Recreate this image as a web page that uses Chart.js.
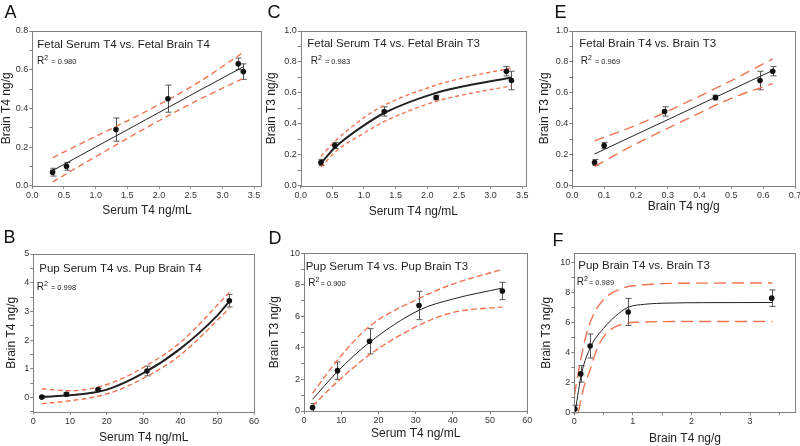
<!DOCTYPE html>
<html>
<head>
<meta charset="utf-8">
<script src="https://cdn.jsdelivr.net/npm/chart.js@4.4.1/dist/chart.umd.min.js"></script>
<style>
body { margin: 0; background: #fff; width: 800px; height: 446px; overflow: hidden; position: relative; }
canvas { position: absolute; left: 0; top: 0; }
</style>
</head>
<body>
<canvas id="cA" width="800" height="446"></canvas>
<canvas id="cB" width="800" height="446"></canvas>
<canvas id="cC" width="800" height="446"></canvas>
<canvas id="cD" width="800" height="446"></canvas>
<canvas id="cE" width="800" height="446"></canvas>
<canvas id="cF" width="800" height="446"></canvas>
<script>
// fetal measurements (mean, +/- error)
var fetalSerumT4 = [0.32, 0.54, 1.32, 2.14, 3.25, 3.33]
var fetalBrainT4 = [0.07, 0.10, 0.29, 0.45, 0.63, 0.59]
var fetalBrainT4Err = [0.02, 0.02, 0.06, 0.07, 0.03, 0.04]
var fetalBrainT3 = [0.15, 0.26, 0.48, 0.57, 0.74, 0.68]
var fetalBrainT3Err = [0.02, 0.02, 0.03, 0.015, 0.03, 0.06]

// pup measurements
var pupSerumT4 = [2.3, 9.0, 17.6, 30.9, 53.3]
var pupBrainT4 = [0.01, 0.11, 0.27, 0.92, 3.37]
var pupBrainT4Err = [0.03, 0.05, 0.05, 0.17, 0.22]
var pupBrainT3 = [0.22, 2.56, 4.42, 6.69, 7.61]
var pupBrainT3Err = [0.25, 0.55, 0.8, 0.9, 0.55]

// fitted curves and 95% bands
var fitAX = [0.32, 1.0, 1.8, 2.6, 3.33]
var fitAY = [0.078, 0.20, 0.343, 0.486, 0.615]
var bandAUp = [0.145, 0.255, 0.385, 0.53, 0.69]
var bandALo = [0.02, 0.15, 0.30, 0.44, 0.555]

var fitCX = [0.32, 0.55, 1.0, 1.32, 2.14, 2.6, 3.33]
var fitCY = [0.145, 0.25, 0.39, 0.47, 0.60, 0.645, 0.70]
var bandCUp = [0.19, 0.29, 0.44, 0.52, 0.65, 0.70, 0.76]
var bandCLo = [0.12, 0.22, 0.34, 0.415, 0.545, 0.59, 0.645]

var fitEX = [0.07, 0.63]
var fitEY = [0.205, 0.745]
var bandEX = [0.07, 0.2, 0.35, 0.5, 0.63]
var bandEUp = [0.29, 0.39, 0.53, 0.68, 0.82]
var bandELo = [0.125, 0.27, 0.42, 0.565, 0.66]

var fitBX = [2.3, 10, 20, 30, 40, 50, 53.3]
var fitBY = [0.02, 0.07, 0.27, 0.85, 1.7, 2.85, 3.35]
var bandBX = [2.3, 10, 20, 30, 40, 53.3]
var bandBUp = [0.3, 0.23, 0.45, 1.05, 1.92, 3.66]
var bandBLo = [-0.22, -0.12, 0.12, 0.67, 1.48, 3.1]

var fitDX = [2.3, 9, 17.5, 31, 40, 53.4]
var fitDY = [0.74, 2.5, 4.33, 6.4, 7.1, 7.8]
var bandDUp = [1.12, 3.23, 5.35, 7.15, 8.05, 8.99]
var bandDLo = [0.32, 1.86, 3.55, 5.45, 6.25, 6.6]

var fitFX = [0.02, 0.125, 0.284, 0.5, 0.7, 0.92, 1.2, 1.6, 2.2, 3.38]
var fitFY = [0.16, 2.6, 4.4, 5.6, 6.4, 7.0, 7.2, 7.28, 7.31, 7.32]
var bandFUpX = [0.0, 0.108, 0.21, 0.324, 0.494, 0.78, 1.18, 1.8, 3.38]
var bandFUp = [1.1, 3.49, 5.27, 6.49, 7.49, 8.22, 8.5, 8.6, 8.62]
var bandFLoX = [0.07, 0.15, 0.27, 0.38, 0.55, 0.78, 1.06, 1.8, 3.38]
var bandFLo = [0, 1.49, 2.82, 4.16, 5.27, 5.82, 6.0, 6.05, 6.05]

var ORANGE = '#f07450'
Chart.defaults.font.family = 'Arial, "Liberation Sans", sans-serif'
Chart.defaults.color = '#333'

function pts(xs, ys) {
    return xs.map(function (x, i) { return {x: x, y: ys[i]} })
}

var panelPlugin = {
    id: 'panel',
    beforeDatasetsDraw: function (chart, args, o) {
        var ctx = chart.ctx, xs = chart.scales.x, ys = chart.scales.y
        ctx.save()
        ctx.strokeStyle = '#555'
        ctx.lineWidth = 1
        chart.data.datasets[0].data.forEach(function (p, i) {
            var px = Math.round(xs.getPixelForValue(p.x)) + 0.5
            var t = ys.getPixelForValue(p.y + o.err[i])
            var b = ys.getPixelForValue(p.y - o.err[i])
            ctx.beginPath()
            ctx.moveTo(px, t); ctx.lineTo(px, b)
            ctx.moveTo(px - 3, t); ctx.lineTo(px + 3, t)
            ctx.moveTo(px - 3, b); ctx.lineTo(px + 3, b)
            ctx.stroke()
        })
        ctx.restore()
    },
    afterDraw: function (chart, args, o) {
        var ctx = chart.ctx, a = chart.chartArea
        ctx.save()
        ctx.strokeStyle = '#808080'
        ctx.lineWidth = 1
        ctx.strokeRect(Math.round(a.left) + 0.5, Math.round(a.top) + 0.5,
            Math.round(a.right - a.left), Math.round(a.bottom - a.top))
        ctx.fillStyle = '#111'
        ctx.textBaseline = 'alphabetic'
        ctx.font = '18px Arial, "Liberation Sans"'
        ctx.fillText(o.letter, a.left + o.letter_at[0], a.top + o.letter_at[1])
        ctx.fillStyle = '#222'
        ctx.font = '11.5px Arial, "Liberation Sans"'
        ctx.fillText(o.title, a.left + o.title_at[0], a.top + o.title_at[1])
        var rx = a.left + o.r2_at[0], ry = a.top + o.r2_at[1]
        ctx.font = '10px Arial, "Liberation Sans"'
        ctx.fillText('R', rx, ry)
        rx += ctx.measureText('R').width
        ctx.font = '7px Arial, "Liberation Sans"'
        ctx.fillText('2', rx, ry - 4)
        rx += ctx.measureText('2').width
        ctx.font = '7.5px Arial, "Liberation Sans"'
        ctx.fillText(o.r2, rx + 1, ry)
        ctx.restore()
    }
}

function axis(c, horizontal) {
    return {
        type: 'linear',
        min: c.min,
        max: c.max,
        border: {display: false},
        grid: {display: true, drawOnChartArea: false, drawTicks: true, tickLength: 3, color: '#808080'},
        ticks: {
            stepSize: c.step,
            includeBounds: false,
            autoSkip: false,
            maxRotation: 0,
            padding: 1,
            font: {size: 9},
            color: '#333',
            callback: function (v) {
                var r = v / c.major
                return Math.abs(r - Math.round(r)) < 1e-6 ? v.toFixed(c.dec) : ''
            }
        },
        title: {display: true, text: c.title, padding: 0, font: {size: 12}, color: '#222'},
        afterFit: function (s) {
            if (horizontal) { s.height = c.size; s.paddingLeft = 0; s.paddingRight = 0 }
            else { s.width = c.size; s.paddingTop = 0; s.paddingBottom = 0 }
        }
    }
}

function band(data, dash) {
    return {data: data, showLine: true, pointRadius: 0, borderColor: ORANGE, borderWidth: 1.4,
        borderDash: dash, cubicInterpolationMode: 'monotone', fill: false}
}

function makePanel(id, p) {
    var area = p.area
    return new Chart(document.getElementById(id), {
        type: 'scatter',
        data: {
            datasets: [
                {data: p.points, pointRadius: 2.8, pointBackgroundColor: '#111', pointBorderWidth: 0, showLine: false},
                {data: p.fit, showLine: true, pointRadius: 0, borderColor: '#222', borderWidth: p.fitWidth,
                    cubicInterpolationMode: 'monotone', fill: false},
                band(p.up, p.dash),
                band(p.lo, p.dash)
            ]
        },
        options: {
            responsive: false,
            animation: false,
            devicePixelRatio: 1,
            layout: {padding: {left: area[0] - p.y.size, top: area[1], right: 800 - area[2], bottom: 446 - area[3] - p.x.size}},
            plugins: {
                legend: {display: false},
                tooltip: {enabled: false},
                panel: {letter: p.letter, title: p.title, r2: p.r2, err: p.err,
                    letter_at: p.letter_at, title_at: p.title_at, r2_at: p.r2_at}
            },
            scales: {x: axis(p.x, true), y: axis(p.y, false)}
        },
        plugins: [panelPlugin]
    })
}

makePanel('cA', {
    letter: 'A', title: 'Fetal Serum T4 vs. Fetal Brain T4', r2: ' = 0.980',
    area: [32.3, 31, 261.7, 185.7],
    letter_at: [-27.8, -13.5], title_at: [5, 17], r2_at: [4.7, 33],
    x: {min: 0, max: 3.62, step: 0.5, major: 0.5, dec: 1, size: 32.5, title: 'Serum T4 ng/mL'},
    y: {min: 0, max: 0.8, step: 0.1, major: 0.2, dec: 1, size: 33, title: 'Brain T4 ng/g'},
    points: pts(fetalSerumT4, fetalBrainT4), err: fetalBrainT4Err,
    fit: pts(fitAX, fitAY), up: pts(fitAX, bandAUp), lo: pts(fitAX, bandALo),
    fitWidth: 1, dash: [6, 4]
})

makePanel('cC', {
    letter: 'C', title: 'Fetal Serum T4 vs. Fetal Brain T3', r2: ' = 0.983',
    area: [300.7, 31, 526, 185.7],
    letter_at: [-33.2, -13.5], title_at: [6.6, 16], r2_at: [10, 32.5],
    x: {min: 0, max: 3.56, step: 0.5, major: 0.5, dec: 1, size: 33, title: 'Serum T4 ng/mL'},
    y: {min: 0, max: 1, step: 0.1, major: 0.2, dec: 1, size: 35.9, title: 'Brain T3 ng/g'},
    points: pts(fetalSerumT4, fetalBrainT3), err: fetalBrainT3Err,
    fit: pts(fitCX, fitCY), up: pts(fitCX, bandCUp), lo: pts(fitCX, bandCLo),
    fitWidth: 2, dash: [4, 3]
})

makePanel('cE', {
    letter: 'E', title: 'Fetal Brain T4 vs. Brain T3', r2: ' = 0.969',
    area: [572.3, 31, 795, 185.7],
    letter_at: [-17.8, -13.5], title_at: [7, 16], r2_at: [8.4, 32.5],
    x: {min: 0, max: 0.7, step: 0.1, major: 0.1, dec: 1, size: 28.5, title: 'Brain T4 ng/g'},
    y: {min: 0, max: 1, step: 0.1, major: 0.2, dec: 1, size: 34.5, title: 'Brain T3 ng/g'},
    points: pts(fetalBrainT4, fetalBrainT3), err: fetalBrainT3Err,
    fit: pts(fitEX, fitEY), up: pts(bandEX, bandEUp), lo: pts(bandEX, bandELo),
    fitWidth: 1, dash: [10, 6]
})

makePanel('cB', {
    letter: 'B', title: 'Pup Serum T4 vs. Pup Brain T4', r2: ' = 0.998',
    area: [33.3, 254, 254, 411.7],
    letter_at: [-29.8, -11.5], title_at: [6, 17.7], r2_at: [3.4, 36],
    x: {min: 0, max: 60, step: 10, major: 10, dec: 0, size: 33, title: 'Serum T4 ng/mL'},
    y: {min: -0.5, max: 5, step: 0.5, major: 1, dec: 0, size: 28.5, title: 'Brain T4 ng/g'},
    points: pts(pupSerumT4, pupBrainT4), err: pupBrainT4Err,
    fit: pts(fitBX, fitBY), up: pts(bandBX, bandBUp), lo: pts(bandBX, bandBLo),
    fitWidth: 2, dash: [5, 3]
})

makePanel('cD', {
    letter: 'D', title: 'Pup Serum T4 vs. Pup Brain T3', r2: '= 0.900',
    area: [304, 253.3, 527.3, 411],
    letter_at: [-35.5, -9.8], title_at: [1.7, 16.7], r2_at: [4.3, 32.4],
    x: {min: 0, max: 60, step: 10, major: 10, dec: 0, size: 30.2, title: 'Serum T4 ng/mL'},
    y: {min: 0, max: 10, step: 1, major: 2, dec: 0, size: 36.2, title: 'Brain T3 ng/g'},
    points: pts(pupSerumT4, pupBrainT3), err: pupBrainT3Err,
    fit: pts(fitDX, fitDY), up: pts(fitDX, bandDUp), lo: pts(fitDX, bandDLo),
    fitWidth: 1, dash: [6, 3]
})

makePanel('cF', {
    letter: 'F', title: 'Pup Brain T4 vs. Brain T3', r2: '= 0.989',
    area: [574.3, 253.3, 795.7, 412.3],
    letter_at: [-21.8, -7.8], title_at: [4, 16], r2_at: [2.4, 31.7],
    x: {min: 0, max: 3.78, step: 0.5, major: 1, dec: 0, size: 33.2, title: 'Brain T4 ng/g'},
    y: {min: 0, max: 10.6, step: 1, major: 2, dec: 0, size: 34.5, title: 'Brain T3 ng/g'},
    points: pts(pupBrainT4, pupBrainT3), err: pupBrainT3Err,
    fit: pts(fitFX, fitFY), up: pts(bandFUpX, bandFUp), lo: pts(bandFLoX, bandFLo),
    fitWidth: 1, dash: [12, 6]
})
</script>
</body>
</html>
